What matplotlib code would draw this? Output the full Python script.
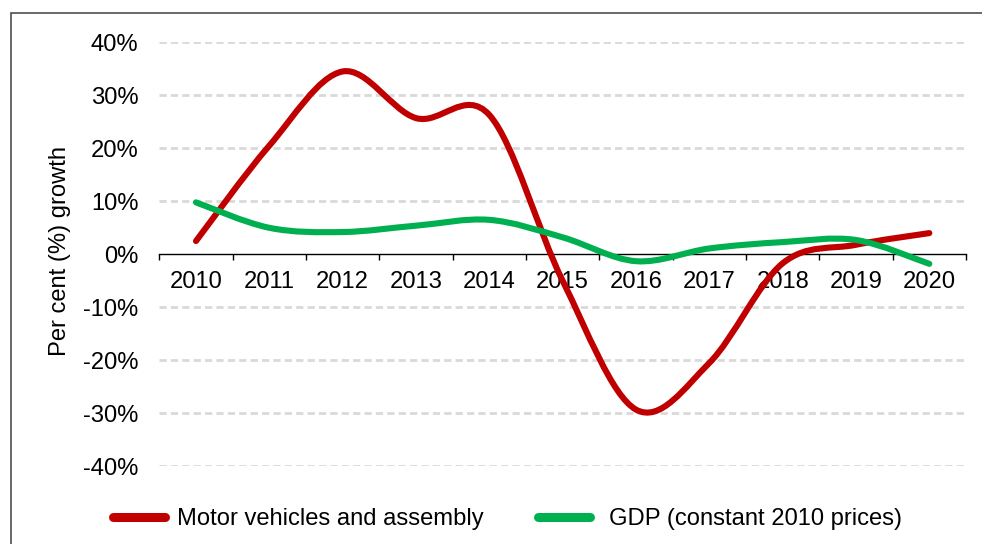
import numpy as np
import matplotlib
matplotlib.use('Agg')
import matplotlib.pyplot as plt
from matplotlib.path import Path
from matplotlib.patches import PathPatch, Rectangle
from matplotlib.lines import Line2D
from matplotlib.ticker import FuncFormatter, FixedLocator

plt.rcParams['font.family'] = ['Liberation Sans', 'DejaVu Sans']

years = ['2010', '2011', '2012', '2013', '2014', '2015',
         '2016', '2017', '2018', '2019', '2020']
motor = [2.5, 20.5, 34.5, 25.7, 26.3, -5.0, -29.3, -20.5, -1.7, 1.8, 4.0]
gdp = [9.8, 5.0, 4.2, 5.4, 6.5, 3.2, -1.3, 1.1, 2.3, 2.7, -1.8]
labels = ['Motor vehicles and assembly', 'GDP (constant 2010 prices)']
colors = ['#C00000', '#00B050']

W, H = 982, 544
fs = 17.1

#===============================================================================
def smooth_path( xs, ys ):
    # Excel-style smoothed line: Catmull-Rom turned into cubic Bezier segments
    pts = np.column_stack([xs, ys]).astype(float)
    n = len(pts)
    verts = [pts[0]]
    codes = [Path.MOVETO]
    for i in range(n-1):
        p0 = pts[i-1] if i > 0 else pts[i]
        p1 = pts[i]
        p2 = pts[i+1]
        p3 = pts[i+2] if i+2 < n else pts[i+1]
        c1 = p1 + (p2 - p0)/6.0
        c2 = p2 - (p3 - p1)/6.0
        verts += [c1, c2, p2]
        codes += [Path.CURVE4]*3
    return Path(verts, codes)

#===============================================================================
fig = plt.figure( figsize=(W/100, H/100), dpi=100 )
ax = fig.add_axes([159.3/W, 1-466.3/H, (966-159.3)/W, (466.3-42.3)/H])

x = np.arange(len(years))
for vals, c in zip([motor, gdp], colors):
    ax.add_patch( PathPatch(smooth_path(x, vals), facecolor='none', edgecolor=c,
                            lw=4.4, capstyle='round', joinstyle='round', zorder=3) )

ax.set_xlim(-0.5, len(years)-0.5)
ax.set_ylim(-40, 40)

# gridlines
for v in range(-40, 41, 10):
    if v == 0:
        continue
    ax.axhline( v, color='#D9D9D9', lw=2.0, ls=(0, (2.6, 1.5)), zorder=1 )

for s in ['top', 'right', 'left']:
    ax.spines[s].set_visible(False)
ax.spines['bottom'].set_position(('data', 0))
ax.spines['bottom'].set_linewidth(1.0)
ax.spines['bottom'].set_zorder(2)

ax.set_yticks(range(-40, 41, 10))
ax.yaxis.set_major_formatter( FuncFormatter(lambda v, p: '%d%%' % v) )
ax.tick_params(axis='y', length=0, pad=15, labelsize=fs)

ax.set_xticks(x)
ax.set_xticklabels(years)
ax.xaxis.set_minor_locator( FixedLocator(np.arange(-0.5, len(years), 1.0)) )
ax.tick_params(axis='x', which='major', length=0, pad=12, labelsize=fs)
ax.tick_params(axis='x', which='minor', length=4.5, width=1.0, direction='out')

fig.text( 60/W, 1-251/H, 'Per cent (%) growth', rotation=90, fontsize=fs,
          ha='center', va='center' )

# legend drawn by hand
leg_y = 1 - 517/H
for (x0, x1, tx), c, lab in zip([(112.5, 164.5, 177), (538, 590, 609)], colors, labels):
    fig.add_artist( Line2D([x0/W, x1/W], [leg_y, leg_y], transform=fig.transFigure,
                           color=c, lw=6.5, solid_capstyle='round') )
    fig.text( tx/W, leg_y, lab, fontsize=fs, ha='left', va='center_baseline' )

# chart border
fig.add_artist( Rectangle((11/W, -0.1), 1.2, 1.1 - 13/H, transform=fig.transFigure,
                          facecolor='none', edgecolor='#404040', lw=1.1) )

fig.savefig('out.png', dpi=100)
